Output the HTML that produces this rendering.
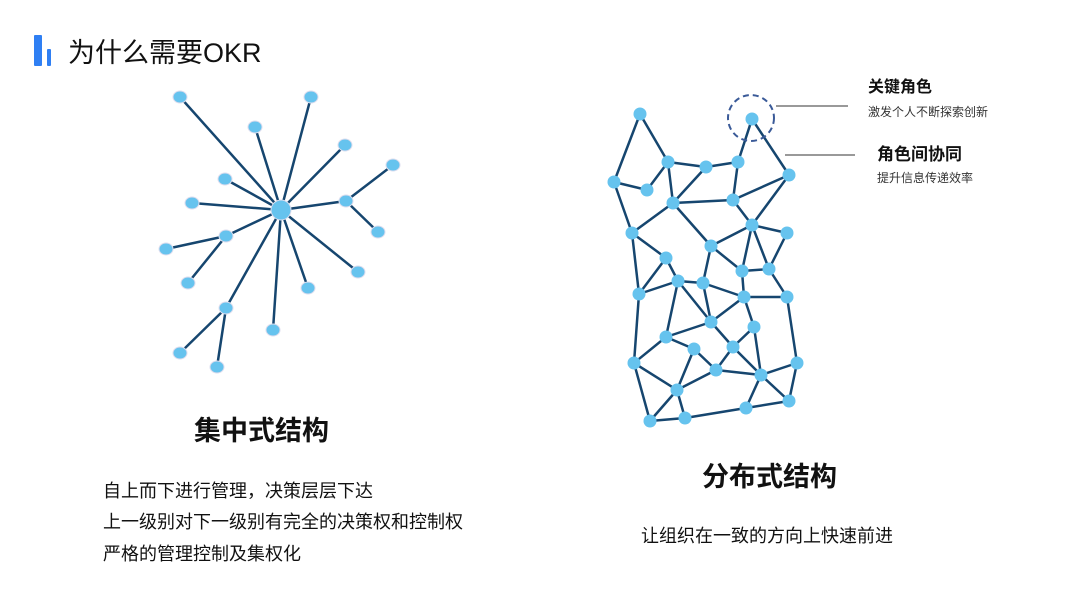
<!DOCTYPE html>
<html><head><meta charset="utf-8"><style>
body{margin:0;width:1080px;height:607px;background:#fff;overflow:hidden;position:relative;font-family:"Liberation Sans","Noto Sans CJK SC",sans-serif;color:#111}
.t{position:absolute;white-space:nowrap;line-height:1}
</style></head><body>
<div style="position:absolute;left:34px;top:35px;width:8px;height:31px;background:#2f7ff3;border-radius:1px"></div>
<div style="position:absolute;left:47px;top:49px;width:4px;height:17px;background:#2f7ff3;border-radius:1px"></div>
<div class="t" style="left:68px;top:40px;font-size:27px">为什么需要OKR</div>
<svg width="1080" height="607" style="position:absolute;left:0;top:0">
<g stroke="#16466f" stroke-width="2.5" fill="none">
<path d="M281 210L180 97M281 210L311 97M281 210L255 127M281 210L345 145M281 210L225 179M281 210L192 203M281 210L346 201M281 210L358 272M281 210L308 288M281 210L273 330M281 210L226 236M281 210L226 308M346 201L393 165M346 201L378 232M226 236L166 249M226 236L188 283M226 308L180 353M226 308L217 367"/>
</g>
<g fill="#66c3ee" stroke="#dde" stroke-width="1">
<circle cx="281" cy="210" r="10"/>
<ellipse cx="180" cy="97" rx="7" ry="6"/><ellipse cx="311" cy="97" rx="7" ry="6"/><ellipse cx="255" cy="127" rx="7" ry="6"/><ellipse cx="345" cy="145" rx="7" ry="6"/><ellipse cx="393" cy="165" rx="7" ry="6"/><ellipse cx="225" cy="179" rx="7" ry="6"/><ellipse cx="192" cy="203" rx="7" ry="6"/><ellipse cx="346" cy="201" rx="7" ry="6"/><ellipse cx="378" cy="232" rx="7" ry="6"/><ellipse cx="226" cy="236" rx="7" ry="6"/><ellipse cx="166" cy="249" rx="7" ry="6"/><ellipse cx="188" cy="283" rx="7" ry="6"/><ellipse cx="358" cy="272" rx="7" ry="6"/><ellipse cx="308" cy="288" rx="7" ry="6"/><ellipse cx="226" cy="308" rx="7" ry="6"/><ellipse cx="273" cy="330" rx="7" ry="6"/><ellipse cx="180" cy="353" rx="7" ry="6"/><ellipse cx="217" cy="367" rx="7" ry="6"/>
</g>
<g stroke="#16466f" stroke-width="2.5" fill="none">
<path d="M640 114L668 162M640 114L614 182M614 182L647 190M647 190L668 162M668 162L706 167M668 162L673 203M706 167L673 203M706 167L738 162M738 162L752 119M752 119L789 175M738 162L733 200M673 203L733 200M733 200L789 175M733 200L752 225M789 175L752 225M614 182L632 233M673 203L632 233M673 203L711 246M632 233L666 258M632 233L639 294M711 246L752 225M711 246L742 271M711 246L703 283M752 225L787 233M752 225L742 271M752 225L769 269M787 233L769 269M742 271L769 269M742 271L744 297M769 269L787 297M666 258L678 281M666 258L639 294M678 281L703 283M639 294L678 281M678 281L666 337M678 281L711 322M703 283L711 322M703 283L744 297M744 297L787 297M744 297L711 322M744 297L754 327M711 322L666 337M711 322L733 347M639 294L634 363M787 297L797 363M754 327L761 375M754 327L733 347M666 337L634 363M666 337L694 349M694 349L716 370M694 349L677 390M733 347L716 370M733 347L761 375M716 370L761 375M716 370L677 390M634 363L677 390M634 363L650 421M761 375L797 363M761 375L789 401M797 363L789 401M761 375L746 408M789 401L746 408M677 390L650 421M677 390L685 418M650 421L685 418M685 418L746 408"/>
</g>
<g fill="#66c3ee">
<circle cx="640" cy="114" r="6.5"/><circle cx="752" cy="119" r="6.5"/><circle cx="668" cy="162" r="6.5"/><circle cx="706" cy="167" r="6.5"/><circle cx="738" cy="162" r="6.5"/><circle cx="614" cy="182" r="6.5"/><circle cx="647" cy="190" r="6.5"/><circle cx="789" cy="175" r="6.5"/><circle cx="673" cy="203" r="6.5"/><circle cx="733" cy="200" r="6.5"/><circle cx="632" cy="233" r="6.5"/><circle cx="752" cy="225" r="6.5"/><circle cx="787" cy="233" r="6.5"/><circle cx="711" cy="246" r="6.5"/><circle cx="666" cy="258" r="6.5"/><circle cx="742" cy="271" r="6.5"/><circle cx="769" cy="269" r="6.5"/><circle cx="678" cy="281" r="6.5"/><circle cx="703" cy="283" r="6.5"/><circle cx="639" cy="294" r="6.5"/><circle cx="744" cy="297" r="6.5"/><circle cx="787" cy="297" r="6.5"/><circle cx="711" cy="322" r="6.5"/><circle cx="754" cy="327" r="6.5"/><circle cx="666" cy="337" r="6.5"/><circle cx="694" cy="349" r="6.5"/><circle cx="733" cy="347" r="6.5"/><circle cx="634" cy="363" r="6.5"/><circle cx="797" cy="363" r="6.5"/><circle cx="716" cy="370" r="6.5"/><circle cx="761" cy="375" r="6.5"/><circle cx="677" cy="390" r="6.5"/><circle cx="789" cy="401" r="6.5"/><circle cx="746" cy="408" r="6.5"/><circle cx="650" cy="421" r="6.5"/><circle cx="685" cy="418" r="6.5"/>
</g>
<circle cx="751" cy="118" r="23" fill="none" stroke="#3a5a98" stroke-width="2" stroke-dasharray="6,4"/>
<path d="M776 106H848M785 155H855" stroke="#333" stroke-width="1"/>
</svg>
<div class="t" style="left:868px;top:80px;font-size:16px;font-weight:bold">关键角色</div>
<div class="t" style="left:868px;top:106px;font-size:12px;color:#333">激发个人不断探索创新</div>
<div class="t" style="left:877px;top:146px;font-size:17px;font-weight:bold">角色间协同</div>
<div class="t" style="left:877px;top:172px;font-size:12px;color:#333">提升信息传递效率</div>
<div class="t" style="left:194px;top:418px;font-size:27px;font-weight:bold">集中式结构</div>
<div class="t" style="left:103px;top:482px;font-size:18px">自上而下进行管理，决策层层下达</div>
<div class="t" style="left:103px;top:513px;font-size:18px">上一级别对下一级别有完全的决策权和控制权</div>
<div class="t" style="left:103px;top:545px;font-size:18px">严格的管理控制及集权化</div>
<div class="t" style="left:702px;top:464px;font-size:27px;font-weight:bold">分布式结构</div>
<div class="t" style="left:641px;top:527px;font-size:18px">让组织在一致的方向上快速前进</div>
</body></html>
